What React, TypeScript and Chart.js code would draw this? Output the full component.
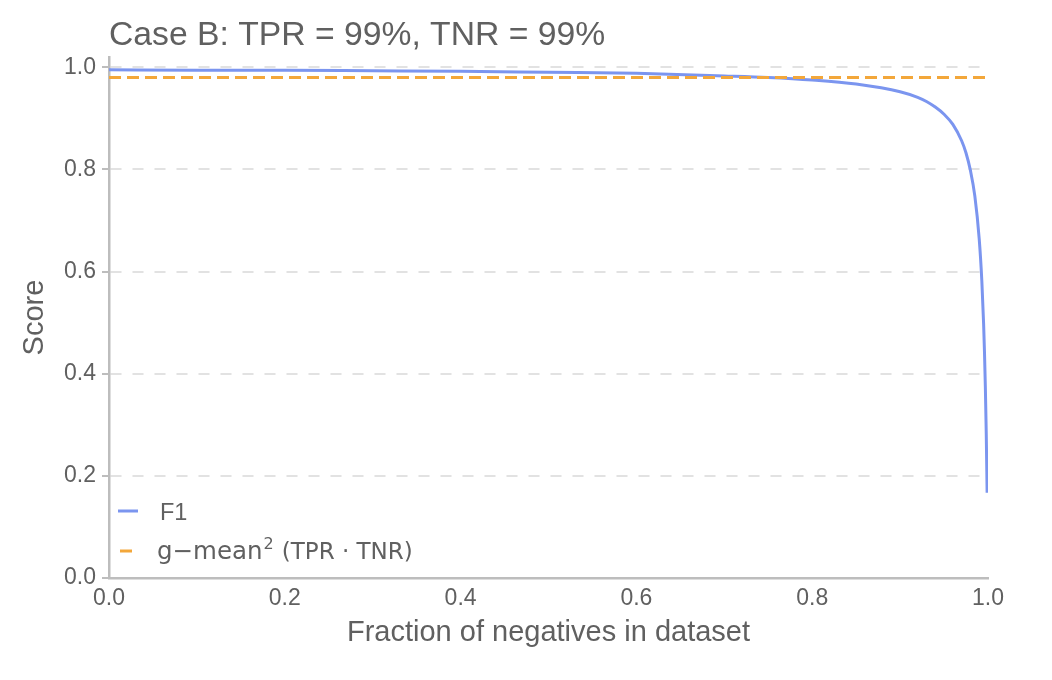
import { useEffect, useRef } from "react";
import { Chart, registerables } from "chart.js";

Chart.register(...registerables);

// fraction of negatives (x) and F1
const negFraction = [0, 0.1, 0.2, 0.3, 0.4, 0.5, 0.6, 0.7, 0.75, 0.8, 0.85, 0.9, 0.92, 0.93, 0.94, 0.95, 0.96, 0.97, 0.975, 0.98, 0.985, 0.99, 0.993, 0.995, 0.996, 0.997, 0.998, 0.999];
const f1Score = [0.995, 0.994, 0.994, 0.993, 0.992, 0.99, 0.988, 0.983, 0.98, 0.975, 0.967, 0.952, 0.941, 0.933, 0.922, 0.908, 0.888, 0.856, 0.832, 0.798, 0.748, 0.664, 0.581, 0.498, 0.442, 0.373, 0.284, 0.167];

// g-mean^2 is flat
const gmeanX = [0, 1];
const gmeanY = [0.98, 0.98];

const yTicks = [0, 0.2, 0.4, 0.6, 0.8, 1.0];
const xTicks = [0, 0.2, 0.4, 0.6, 0.8, 1.0];

const BLUE = "#7b95ef";
const ORANGE = "#f3a73a";
const TEXT = "#606060";
const AXIS = "#bdbdbd";
const SANS = '"Liberation Sans", Arial, sans-serif';
const DJ = '"DejaVu Sans", sans-serif';

const overlay = {
  id: "overlay",
  afterDraw(chart: any) {
    const { ctx, chartArea } = chart;
    ctx.save();
    // title
    ctx.fillStyle = TEXT;
    ctx.font = `33.7px ${SANS}`;
    ctx.textBaseline = "alphabetic";
    ctx.textAlign = "left";
    ctx.fillText("Case B: TPR = 99%, TNR = 99%", chartArea.left, 45);

    // legend, bottom-left inside plot
    const lx = chartArea.left + 9;
    const y1 = chartArea.bottom - 67;
    const y2 = chartArea.bottom - 27;
    ctx.lineWidth = 3;
    ctx.strokeStyle = BLUE;
    ctx.beginPath();
    ctx.moveTo(lx, y1);
    ctx.lineTo(lx + 20, y1);
    ctx.stroke();
    ctx.strokeStyle = ORANGE;
    ctx.beginPath();
    ctx.moveTo(lx + 2, y2);
    ctx.lineTo(lx + 14, y2);
    ctx.stroke();

    ctx.fillStyle = TEXT;
    ctx.font = `23.5px ${SANS}`;
    ctx.fillText("F1", lx + 42, y1 + 9);

    let x = lx + 39;
    const base = y2 + 8;
    ctx.font = `24.5px ${DJ}`;
    const part1 = "g\u2212mean";
    ctx.fillText(part1, x, base);
    x += ctx.measureText(part1).width + 1;
    ctx.font = `16px ${DJ}`;
    ctx.fillText("2", x, base - 10);
    x += ctx.measureText("2").width + 8;
    ctx.font = `23px ${DJ}`;
    ctx.fillText("(TPR \u00B7 TNR)", x, base);
    ctx.restore();
  },
};

export default function App() {
  const ref = useRef<HTMLCanvasElement | null>(null);

  useEffect(() => {
    document.body.style.margin = "0";
    if (!ref.current) return;

    const chart = new Chart(ref.current, {
      type: "line",
      data: {
        datasets: [
          {
            label: "g\u2212mean\u00B2 (TPR\u00B7TNR)",
            data: gmeanX.map((x, i) => ({ x, y: gmeanY[i] })),
            borderColor: ORANGE,
            borderWidth: 3,
            borderDash: [12, 6],
            pointRadius: 0,
          },
          {
            label: "F1",
            data: negFraction.map((x, i) => ({ x, y: f1Score[i] })),
            borderColor: BLUE,
            borderWidth: 3,
            pointRadius: 0,
            cubicInterpolationMode: "monotone",
          },
        ],
      },
      options: {
        animation: false,
        responsive: false,
        layout: { padding: { top: 57, right: 64, left: 0, bottom: 0 } },
        plugins: { legend: { display: false }, title: { display: false }, tooltip: { enabled: false } },
        scales: {
          x: {
            type: "linear",
            min: 0,
            max: 1,
            afterBuildTicks: (s: any) => { s.ticks = xTicks.map((v) => ({ value: v })); },
            afterFit: (s: any) => { s.height = 102; },
            grid: { display: false, drawTicks: false },
            border: { color: AXIS, width: 2.5 },
            ticks: {
              padding: 7,
              color: TEXT,
              font: { family: SANS, size: 23 },
              callback: (v: any) => Number(v).toFixed(1),
            },
            title: {
              display: true,
              text: "Fraction of negatives in dataset",
              color: TEXT,
              font: { family: SANS, size: 29 },
              padding: { top: 4, bottom: 30 },
            },
          },
          y: {
            min: 0,
            max: 1.02,
            afterBuildTicks: (s: any) => { s.ticks = yTicks.map((v) => ({ value: v })); },
            afterFit: (s: any) => { s.width = 109; },
            grid: {
              color: (c: any) => (c.tick && c.tick.value === 0 ? "rgba(0,0,0,0)" : "#e2e2e2"),
              lineWidth: 2,
              tickColor: AXIS,
              tickLength: 7,
              tickWidth: 2,
              tickBorderDash: [],
            },
            border: { color: AXIS, width: 2.5, dash: [11, 11] },
            ticks: {
              padding: 6,
              color: TEXT,
              font: { family: SANS, size: 23 },
              callback: (v: any) => Number(v).toFixed(1),
            },
            title: {
              display: true,
              text: "Score",
              color: TEXT,
              font: { family: SANS, size: 29 },
              padding: { top: 18, bottom: 0 },
            },
          },
        },
      },
      plugins: [overlay],
    });

    return () => chart.destroy();
  }, []);

  return (
    <div style={{ width: 1052, height: 680, background: "#fff" }}>
      <canvas ref={ref} width={1052} height={680} style={{ width: 1052, height: 680 }} />
    </div>
  );
}
